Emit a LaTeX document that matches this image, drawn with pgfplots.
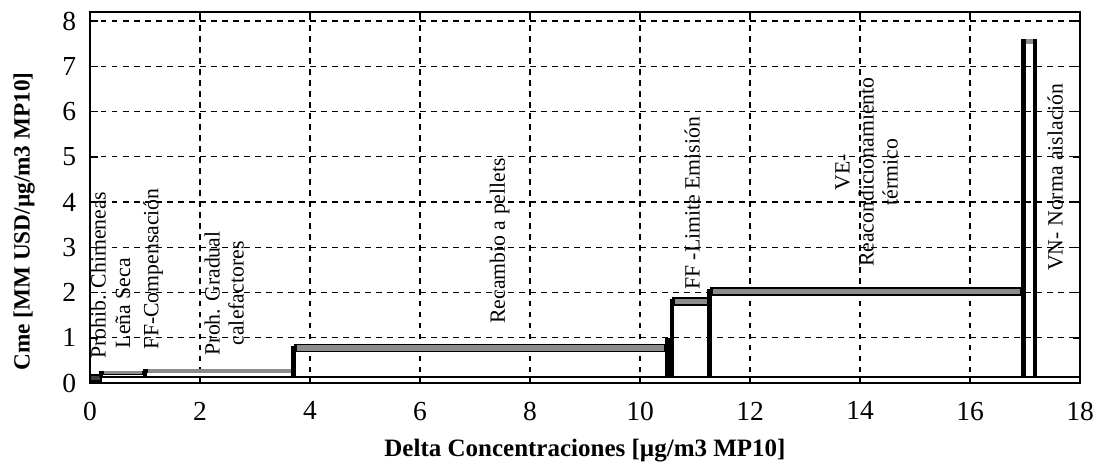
\documentclass[border=0pt]{standalone}
\usepackage{pgfplots}
\pgfplotsset{compat=1.18}
\usepackage{fontspec}
\setmainfont{Liberation Serif}
\definecolor{bandgray}{gray}{0.55}
\begin{document}
\begin{tikzpicture}
\begin{axis}[
  scale only axis,
  width=396pt, height=148.4pt,
  xmin=0, xmax=18, ymin=0, ymax=8.2,
  xtick={0,2,...,18}, ytick={0,1,...,8},
  grid=major,
  major grid style={black, line width=0.5pt, dash pattern=on 2.2pt off 2.2pt},
  axis line style={black, line width=0.9pt},
  tick style={black, line width=0.6pt},
  major tick length=3pt,
  /pgf/number format/assume math mode=true,
  tick label style={font=\fontsize{11}{12}\selectfont},
  yticklabel style={xshift=-2pt},
  xticklabel style={yshift=-4pt},
  xlabel={\textbf{Delta Concentraciones [µg/m3 MP10]}},
  ylabel={\textbf{Cme [MM USD/µg/m3 MP10]}},
  xlabel style={font=\fontsize{10}{11}\selectfont, yshift=-0.5pt},
  ylabel style={font=\fontsize{9.3}{11}\selectfont, xshift=-9.6pt, yshift=4.2pt},
  clip=false,
]
% baseline
\addplot[black, line width=0.6pt] coordinates {(0.18,0.13) (18,0.13)};
% bar 1 (dark block)
\addplot[black, fill=black!75, line width=0.8pt] coordinates {(0,0.05) (0,0.18) (0.2,0.18) (0.2,0.05)} -- cycle;
% bars outlines
\addplot[black, line width=1.6pt] coordinates {(0.2,0.13) (0.2,0.23) (1.0,0.23) (1.0,0.13)};
\addplot[black, line width=1.6pt] coordinates {(1.0,0.23) (1.0,0.27) (3.7,0.27) (3.7,0.13)};
\addplot[black, line width=1.9pt] coordinates {(3.7,0.13) (3.7,0.77) (10.5,0.77) (10.5,0.13)};
\addplot[black, line width=1.9pt] coordinates {(10.5,0.13) (10.5,0.95) (10.58,0.95) (10.58,0.13)};
\addplot[black, line width=1.9pt] coordinates {(10.58,0.13) (10.58,1.8) (11.27,1.8) (11.27,0.13)};
\addplot[black, line width=1.9pt] coordinates {(11.27,0.13) (11.27,2.02) (16.97,2.02) (16.97,0.13)};
\addplot[black, line width=1.9pt] coordinates {(16.97,0.13) (16.97,7.55) (17.18,7.55) (17.18,0.13)};
% grey top bands
\addplot[black, line width=3.4pt] coordinates {(3.7,0.77) (10.5,0.77)};
\addplot[bandgray, line width=2.3pt] coordinates {(3.76,0.77) (10.44,0.77)};
\addplot[black, line width=3.4pt] coordinates {(10.58,1.8) (11.27,1.8)};
\addplot[bandgray, line width=2.3pt] coordinates {(10.64,1.8) (11.21,1.8)};
\addplot[black, line width=3.4pt] coordinates {(11.27,2.02) (16.97,2.02)};
\addplot[bandgray, line width=2.3pt] coordinates {(11.33,2.02) (16.91,2.02)};
\addplot[bandgray, line width=1.8pt] coordinates {(17.01,7.55) (17.14,7.55)};
\addplot[bandgray, line width=1.5pt] coordinates {(0.25,0.23) (0.95,0.23)};
\addplot[bandgray, line width=1.5pt] coordinates {(1.05,0.27) (3.65,0.27)};
% labels
\begin{scope}[every node/.style={font=\fontsize{8.7}{9.6}\selectfont, rotate=90, align=center, inner sep=0pt}]
\node[anchor=west] at (axis cs:0.15,0.52) {Prohib. Chimeneas};
\node[anchor=west] at (axis cs:0.6,0.76) {Leña Seca};
\node[anchor=west] at (axis cs:1.15,0.74) {FF-Compensación};
\node at (axis cs:2.44,1.98) {Proh. Gradual\\calefactores};
\node at (axis cs:7.45,3.14) {Recambio a pellets};
\node[anchor=west] at (axis cs:10.95,2.05) {FF -Limite Emisión};
\node at (axis cs:14.12,4.66) {VE-\\Reacondicionamiento\\térmico};
\node at (axis cs:17.55,4.55) {VN- Norma aislación};
\end{scope}
\coordinate (bl) at (rel axis cs:0,0);
\coordinate (tr) at (rel axis cs:1,1);
\end{axis}
\pgfresetboundingbox
\path[use as bounding box] ([xshift=-36pt,yshift=-31.2pt]bl) rectangle ([xshift=6pt,yshift=4.8pt]tr);
\end{tikzpicture}
\end{document}
